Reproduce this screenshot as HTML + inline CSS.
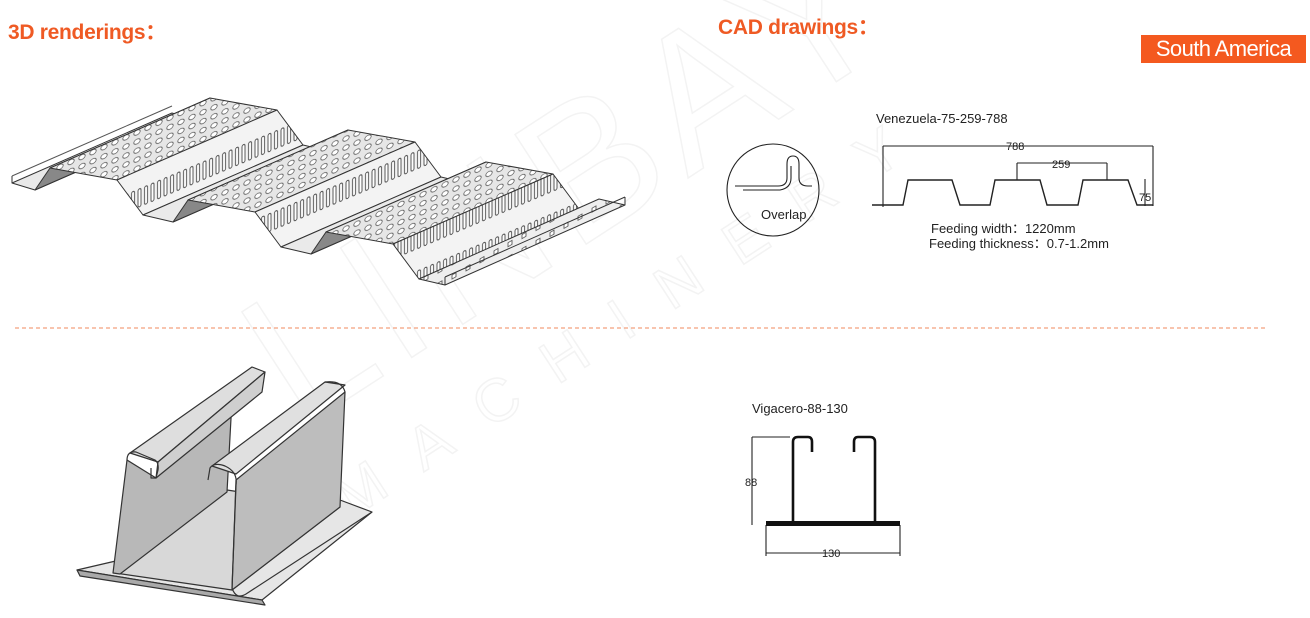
<!DOCTYPE html>
<html><head><meta charset="utf-8"><style>
html,body{margin:0;padding:0;background:#fff;}
body{width:1310px;height:618px;overflow:hidden;position:relative;font-family:"Liberation Sans",sans-serif;}
.h{position:absolute;color:#ef5a24;font-weight:bold;font-size:21px;letter-spacing:-0.3px;}
.sa{position:absolute;left:1141px;top:35px;width:165px;height:28px;background:#f4591f;color:#fff;font-size:22px;line-height:28px;text-align:center;letter-spacing:-0.6px;}
svg{position:absolute;left:0;top:0;}
</style></head><body>
<svg width="1310" height="618" viewBox="0 0 1310 618">
<defs>
<pattern id="holes" width="11" height="9" patternUnits="userSpaceOnUse" patternTransform="skewY(-24)">
<rect width="11" height="9" fill="#e6e6e6"/>
<ellipse cx="5" cy="4.5" rx="3.2" ry="2.4" fill="#fff" stroke="#555" stroke-width="0.8"/>
</pattern>
<pattern id="slots" width="6.5" height="40" patternUnits="userSpaceOnUse" patternTransform="skewY(-23)">
<rect width="6.5" height="40" fill="#f3f3f3"/>
<rect x="1.5" y="8" width="3" height="18" rx="1.5" fill="#fff" stroke="#444" stroke-width="0.9"/>
</pattern>
<pattern id="sq" width="14" height="14" patternUnits="userSpaceOnUse" patternTransform="skewY(-30)">
<rect width="14" height="14" fill="#eee"/>
<rect x="4" y="4" width="4" height="4" fill="#fff" stroke="#444" stroke-width="0.8"/>
</pattern>
</defs>

<g fill="none" stroke="#f3f3f3" stroke-width="1.5" font-family="Liberation Sans">
<text x="300" y="430" font-size="190" transform="rotate(-33 300 430)" letter-spacing="10">LINBAY</text>
<text x="350" y="520" font-size="60" transform="rotate(-33 350 520)" letter-spacing="38">MACHINERY</text>
</g>

<line x1="15" y1="328" x2="1265" y2="328" stroke="#f08a5e" stroke-width="1" stroke-dasharray="4,3"/>

<g stroke="#333" stroke-width="1" stroke-linejoin="round">
<polygon points="12,183 35,190 195,120 172,113" fill="#e9e9e9"/>
<line x1="12" y1="176" x2="172" y2="106" stroke="#555"/>
<line x1="12" y1="176" x2="12" y2="183"/>
<polygon points="35,190 50,168 210,98 195,120" fill="#888"/>
<polygon points="50,168 117,180 277,110 210,98" fill="url(#holes)"/>
<polygon points="117,180 143,215 303,145 277,110" fill="url(#slots)"/>
<polygon points="143,215 173,222 333,152 303,145" fill="#eaeaea"/>
<polygon points="173,222 188,200 348,130 333,152" fill="#888"/>
<polygon points="188,200 255,212 415,142 348,130" fill="url(#holes)"/>
<polygon points="255,212 281,247 441,177 415,142" fill="url(#slots)"/>
<polygon points="281,247 311,254 471,184 441,177" fill="#eaeaea"/>
<polygon points="311,254 326,232 486,162 471,184" fill="#888"/>
<polygon points="326,232 393,244 553,174 486,162" fill="url(#holes)"/>
<polygon points="393,244 419,279 579,209 553,174" fill="url(#slots)"/>
<polygon points="419,279 445,285 625,205 599,199" fill="url(#sq)"/>
<line x1="445" y1="285" x2="445" y2="277"/>
<line x1="445" y1="277" x2="625" y2="197"/>
<line x1="625" y1="205" x2="625" y2="197"/>
</g>

<g stroke="#333" stroke-width="1.2" stroke-linejoin="round">
<polygon points="77,570 262,600 372,512 340,500 120,560" fill="#e6e6e6"/>
<polygon points="77,570 262,600 265,605 80,576" fill="#aaa"/>
<polygon points="115,573 232,590 340,507 227,490" fill="#d8d8d8"/>
<polygon points="127,460 113,573 120,574 227,492 232,400 156,478" fill="#b8b8b8"/>
<polygon points="130,453 252,367 265,372 158,462" fill="#dedede"/>
<polygon points="158,462 265,372 262,392 156,478" fill="#cfcfcf"/>
<path d="M127,460 Q127,451 136,452 L155,460 Q159,463 158,470 L156,478 L151,478 L151,468" fill="none"/>
<polygon points="236,480 232,590 340,507 345,392" fill="#bdbdbd"/>
<polygon points="212,466 325,382 345,385 236,474" fill="#e0e0e0"/>
<path d="M208,480 L210,468 Q214,462 225,466 Q238,472 236,485 L232,588 Q236,600 246,594 L372,512" fill="none"/>
<path d="M325,382 Q342,380 345,392" fill="none"/>
</g>

<g font-family="Liberation Sans" fill="#222">
<text x="876" y="123" font-size="13">Venezuela-75-259-788</text>
<text x="931" y="233" font-size="13">Feeding width：1220mm</text>
<text x="929" y="248" font-size="13">Feeding thickness：0.7-1.2mm</text>
<text x="761" y="219" font-size="13">Overlap</text>
<text x="1006" y="150" font-size="11">788</text>
<text x="1052" y="168" font-size="11">259</text>
<text x="1139" y="201" font-size="11">75</text>
<text x="752" y="413" font-size="13">Vigacero-88-130</text>
<text x="745" y="486" font-size="11">88</text>
<text x="822" y="557" font-size="11">130</text>
</g>
<g fill="none" stroke="#222" stroke-width="1.1">
<circle cx="773" cy="190" r="46"/>
<path d="M735,186 L778,186 Q787,186 787,178 L787,164 Q787,156 793,156 Q799,156 799,164 L799,178 Q799,186 808,186 L812,186"/>
<path d="M743,190 L780,190 Q791,188 791,178 L791,166"/>
<line x1="883" y1="146" x2="1153" y2="146"/>
<line x1="883" y1="146" x2="883" y2="207"/>
<line x1="1153" y1="146" x2="1153" y2="206"/>
<line x1="1017" y1="163" x2="1107" y2="163"/>
<line x1="1017" y1="163" x2="1017" y2="180"/>
<line x1="1107" y1="163" x2="1107" y2="180"/>
<line x1="1145" y1="179" x2="1145" y2="206"/>
<path stroke-width="1.4" d="M872,205 L903,205 L908,180 L952,180 L960,205 L990,205 L995,180 L1040,180 L1047,205 L1078,205 L1083,180 L1128,180 L1137,205 L1153,205"/>
<line x1="752" y1="437" x2="752" y2="525"/>
<line x1="752" y1="437" x2="790" y2="437"/>
<line x1="766" y1="553" x2="900" y2="553"/>
<line x1="766" y1="525" x2="766" y2="556"/>
<line x1="900" y1="525" x2="900" y2="556"/>
</g>
<path d="M766,524 L793,524 L793,442 Q793,437 798,437 L808,437 Q812,437 812,442 L812,452 M900,524 L875,524 L875,442 Q875,437 870,437 L858,437 Q854,437 854,442 L854,452" fill="none" stroke="#111" stroke-width="2.6"/>
<rect x="766" y="521" width="134" height="5" fill="#111"/>
</svg>
<div class="h" style="left:8px;top:16px;">3D renderings：</div>
<div class="h" style="left:718px;top:11px;">CAD drawings：</div>
<div class="sa">South America</div>
</body></html>
